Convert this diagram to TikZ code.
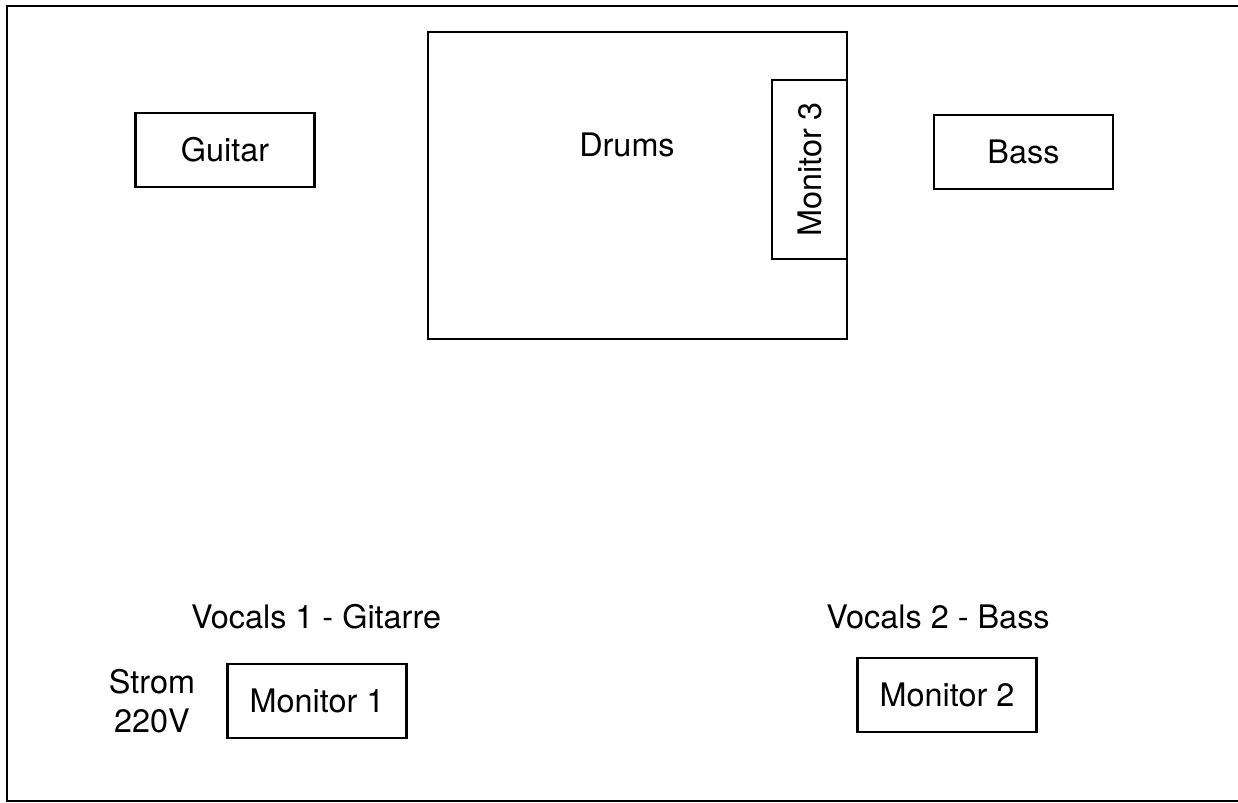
\documentclass[tikz,border=0pt]{standalone}
\usepackage{fontspec}
\setmainfont{TeX Gyre Heros}
\usetikzlibrary{positioning}

\tikzset{
  box/.style={draw,line width=1.1pt,inner sep=0pt,outer sep=0pt,minimum width=89.5pt,minimum height=37pt},
  lbl/.style={inner sep=0pt,align=center}
}

\begin{document}
\begin{tikzpicture}[x=0.5pt,y=-0.5pt,every node/.append style={font=\fontsize{16.2}{19.5}\selectfont}]
    \useasboundingbox (0,0) rectangle (1238,803);
    % stage outline
    \draw[line width=1.3pt] (1245,6) -- (7,6) -- (7,801) -- (1245,801);
    % back line
    \node[box] (guitar) at (225,150) {Guitar};
    \node[box,minimum width=209.5pt,minimum height=153.5pt] (drums) at (637.5,185.5) {};
    \node[lbl] (drumslabel) at (627,145) {Drums};
    \node[box,minimum width=37.5pt,minimum height=89.5pt,anchor=east] (mon3) at (847,169.5) {};
    \node[lbl,rotate=90] (mon3label) at (mon3.center) {Monitor 3};
    \node[box] (bass) at (1023.5,152) {Bass};
    % front line
    \node[lbl] (voc1) at (316,617) {Vocals 1 - Gitarre};
    \node[lbl] (voc2) at (938,617) {Vocals 2 - Bass};
    \node[box] (mon1) at (317,701) {Monitor 1};
    \node[box] (mon2) at (947,695) {Monitor 2};
    \node[lbl] (power) at (152,701) {Strom\\220V};
\end{tikzpicture}
\end{document}
